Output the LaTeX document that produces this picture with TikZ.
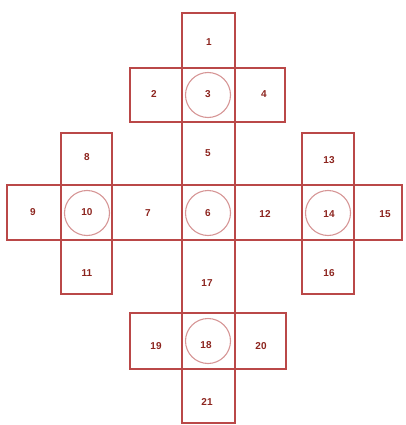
\documentclass[tikz,border=0pt]{standalone}
\usepackage{fontspec}
\setsansfont{Liberation Sans}
\begin{document}
\begin{tikzpicture}[x=1pt,y=-1pt,
  boxline/.style={draw=boxred,line width=1.8pt,inner sep=0pt,fill=none},
  ring/.style={circle,draw=ringred,line width=1.1pt,minimum size=45pt,inner sep=0pt},
  num/.style={text=numred,font=\sffamily\bfseries\fontsize{10}{11}\selectfont,inner sep=1pt}]
\definecolor{boxred}{RGB}{186,72,72}
\definecolor{ringred}{RGB}{214,150,150}
\definecolor{numred}{RGB}{140,36,30}
\useasboundingbox (0,0) rectangle (406,425);
% rectangles
\node[boxline,minimum width=53pt,minimum height=410pt] (col) at (208.5,218) {};
\node[boxline,minimum width=395pt,minimum height=55pt] (hbar) at (204.5,212.5) {};
\node[boxline,minimum width=155pt,minimum height=54pt] (topbar) at (207.5,95) {};
\node[boxline,minimum width=51pt,minimum height=161pt] (leftbar) at (86.5,213.5) {};
\node[boxline,minimum width=52pt,minimum height=161pt] (rightbar) at (328,213.5) {};
\node[boxline,minimum width=156pt,minimum height=56pt] (botbar) at (208,341) {};
% circles
\node[ring] (c3) at (208,95) {};
\node[ring] (c10) at (87,213) {};
\node[ring] (c6) at (208,213) {};
\node[ring] (c14) at (328,213) {};
\node[ring] (c18) at (208,341) {};
% numbers
\node[num] (n1) at (209,42) {1};
\node[num] (n2) at (154,94) {2};
\node[num] (n3) at (208,94) {3};
\node[num] (n4) at (264,94) {4};
\node[num] (n5) at (208,153) {5};
\node[num] (n6) at (208,213) {6};
\node[num] (n7) at (148,213) {7};
\node[num] (n8) at (87,157) {8};
\node[num] (n9) at (33,212) {9};
\node[num] (n10) at (87,212) {10};
\node[num] (n11) at (87,273) {11};
\node[num] (n12) at (265,214) {12};
\node[num] (n13) at (329,160) {13};
\node[num] (n14) at (329,214) {14};
\node[num] (n15) at (385,214) {15};
\node[num] (n16) at (329,273) {16};
\node[num] (n17) at (207,283) {17};
\node[num] (n18) at (206,345) {18};
\node[num] (n19) at (156,346) {19};
\node[num] (n20) at (261,346) {20};
\node[num] (n21) at (207,402) {21};
\end{tikzpicture}
\end{document}
